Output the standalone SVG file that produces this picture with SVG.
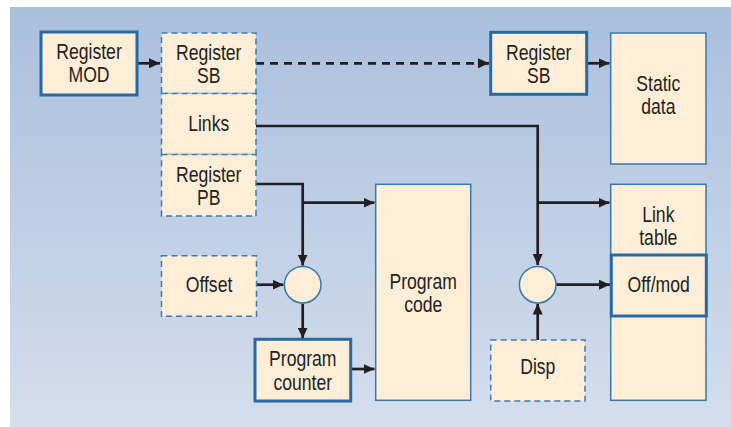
<svg xmlns="http://www.w3.org/2000/svg" width="731" height="427" viewBox="0 0 731 427">
<defs>
<linearGradient id="bg" x1="0" y1="0" x2="0" y2="1">
<stop offset="0" stop-color="#aabfdd"/>
<stop offset="1" stop-color="#d4deed"/>
</linearGradient>
<marker id="ah" viewBox="0 0 11 10" refX="11" refY="5" markerWidth="11" markerHeight="10" markerUnits="userSpaceOnUse" orient="auto">
<path d="M0,0 L11,5 L0,10 Z" fill="#231f20"/>
</marker>
<style>
.box{fill:#feeed8;stroke:#3579b1;stroke-width:1.5}
.thick{fill:#feeed8;stroke:#256aa3;stroke-width:3}
.dash{fill:#feeed8;stroke:#3a7cb3;stroke-width:1.5;stroke-dasharray:6 4}
.ln{fill:none;stroke:#231f20;stroke-width:2.7}
.dl{fill:none;stroke:#231f20;stroke-width:2.7;stroke-dasharray:8 6}
text{font-family:"Liberation Sans",Arial,sans-serif;font-size:22px;fill:#231f20;text-anchor:middle}
</style>
</defs>
<rect x="10" y="7" width="721" height="420" fill="url(#bg)"/>

<g id="connectors">
<path class="ln" d="M137,63.3 H160" marker-end="url(#ah)"/>
<path class="dl" d="M256,63.3 H489"/>
<path class="ln" d="M478,63.3 H489" marker-end="url(#ah)"/>
<path class="ln" d="M587,63.3 H609.5" marker-end="url(#ah)"/>
<path class="ln" d="M256,126 H537.7 V265" marker-end="url(#ah)"/>
<path class="ln" d="M537.7,202.7 H609.5" marker-end="url(#ah)"/>
<path class="ln" d="M256,184 H302.7 V265.5" marker-end="url(#ah)"/>
<path class="ln" d="M302.7,202.7 H374.5" marker-end="url(#ah)"/>
<path class="ln" d="M256.5,284.7 H283.5" marker-end="url(#ah)"/>
<path class="ln" d="M302.7,303.5 V338.5" marker-end="url(#ah)"/>
<path class="ln" d="M350.7,369 H374.5" marker-end="url(#ah)"/>
<path class="ln" d="M556,284.7 H610" marker-end="url(#ah)"/>
<path class="ln" d="M537.7,340 V303.5" marker-end="url(#ah)"/>
</g>

<g id="register-mod">
<rect class="thick" x="41" y="32" width="96" height="63"/>
<text transform="translate(89,58.5) scale(0.8,1)">Register</text>
<text transform="translate(89,81.5) scale(0.8,1)">MOD</text>
</g>

<g id="register-sb-left">
<rect class="dash" x="161.5" y="33" width="94.5" height="60.5"/>
<text transform="translate(208.7,59.5) scale(0.8,1)">Register</text>
<text transform="translate(208.7,82.5) scale(0.8,1)">SB</text>
</g>

<g id="links">
<rect class="dash" x="161.5" y="93.5" width="94.5" height="61"/>
<text transform="translate(208.7,131) scale(0.8,1)">Links</text>
</g>

<g id="register-pb">
<rect class="dash" x="161.5" y="154.5" width="94.5" height="61.5"/>
<text transform="translate(208.7,181.5) scale(0.8,1)">Register</text>
<text transform="translate(208.7,204.5) scale(0.8,1)">PB</text>
</g>

<g id="register-sb-right">
<rect class="thick" x="490.7" y="32.3" width="96" height="62"/>
<text transform="translate(538.7,59.5) scale(0.8,1)">Register</text>
<text transform="translate(538.7,82.5) scale(0.8,1)">SB</text>
</g>

<g id="static-data">
<rect class="box" x="610.7" y="33" width="95.3" height="131"/>
<text transform="translate(658.3,91) scale(0.8,1)">Static</text>
<text transform="translate(658.3,114) scale(0.8,1)">data</text>
</g>

<g id="link-table">
<rect class="box" x="610.7" y="184.3" width="95.3" height="216"/>
<text transform="translate(658.3,222) scale(0.8,1)">Link</text>
<text transform="translate(658.3,245) scale(0.8,1)">table</text>
</g>

<g id="off-mod">
<rect class="thick" x="611.3" y="255" width="95" height="61"/>
<text transform="translate(658.7,292) scale(0.8,1)">Off/mod</text>
</g>

<g id="program-code">
<rect class="box" x="375.7" y="184.3" width="95" height="216"/>
<text transform="translate(423.2,288.5) scale(0.8,1)">Program</text>
<text transform="translate(423.2,311.5) scale(0.8,1)">code</text>
</g>

<g id="offset">
<rect class="dash" x="161.5" y="255.7" width="95" height="60.6"/>
<text transform="translate(209,291.7) scale(0.8,1)">Offset</text>
</g>

<g id="adder-left">
<circle class="box" cx="302.7" cy="284.7" r="18.3"/>
</g>

<g id="adder-right">
<circle class="box" cx="537.7" cy="284.7" r="18.3"/>
</g>

<g id="program-counter">
<rect class="thick" x="255" y="339.3" width="95.7" height="61.7"/>
<text transform="translate(302.8,366) scale(0.8,1)">Program</text>
<text transform="translate(302.8,389.5) scale(0.8,1)">counter</text>
</g>

<g id="disp">
<rect class="dash" x="490.7" y="340" width="94.3" height="61"/>
<text transform="translate(537.8,374) scale(0.8,1)">Disp</text>
</g>
</svg>
